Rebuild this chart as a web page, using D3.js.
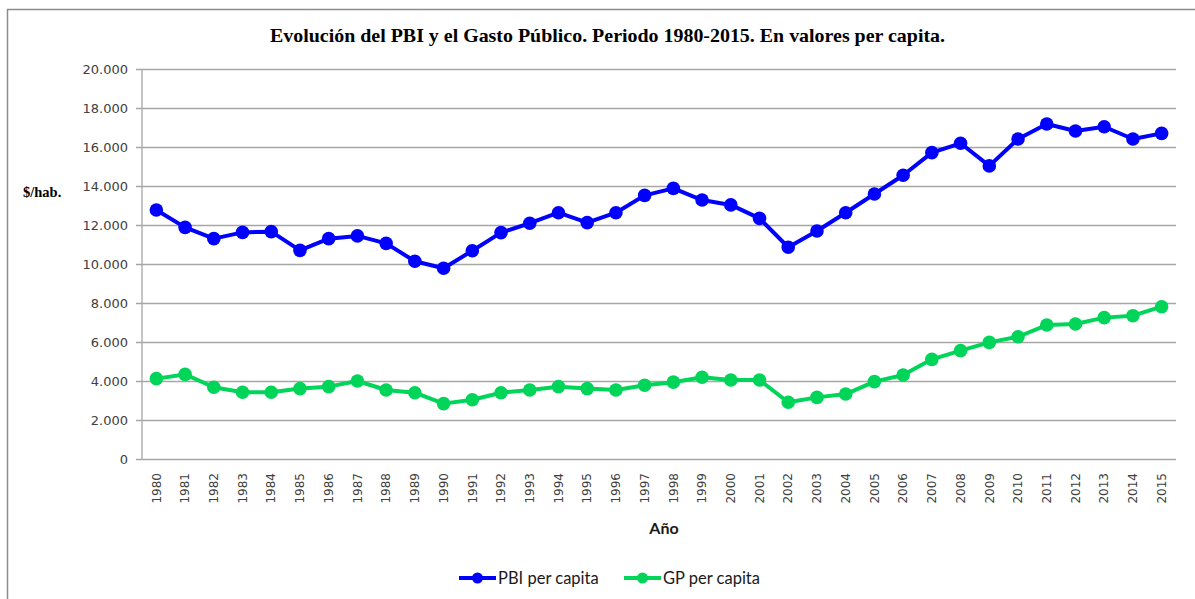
<!DOCTYPE html>
<html>
<head>
<meta charset="utf-8">
<script src="https://cdn.jsdelivr.net/npm/d3@7"></script>
<style>
  body { margin: 0; background: #fff; }
  svg { display: block; }
</style>
</head>
<body>
<svg id="chart"></svg>
<script>
// datos
const years = d3.range(1980, 2016).map(String)
const pbi = [12770, 11880, 11300, 11620, 11660, 10700, 11300, 11440, 11060, 10140,
  9780, 10680, 11610, 12090, 12630, 12120, 12630, 13520, 13880, 13280,
  13030, 12340, 10860, 11690, 12630, 13590, 14550, 15710, 16190, 15030,
  16410, 17180, 16820, 17040, 16410, 16700]
const gp = [4120, 4340, 3680, 3420, 3420, 3610, 3710, 4000, 3540, 3400,
  2840, 3040, 3400, 3540, 3710, 3610, 3540, 3780, 3940, 4190,
  4050, 4050, 2910, 3160, 3330, 3970, 4310, 5110, 5560, 5980,
  6270, 6870, 6920, 7250, 7350, 7810]
const yTicks = [0, 2000, 4000, 6000, 8000, 10000, 12000, 14000, 16000, 18000, 20000]
const series = [
  { name: 'PBI per capita', values: pbi, color: '#0000ff' },
  { name: 'GP per capita', values: gp, color: '#00d459' }
]

const width = 1195
const height = 599
const margin = { top: 69, right: 19, bottom: 140, left: 142 }

const svg = d3.select('#chart')
  .attr('width', width)
  .attr('height', height)

// marco exterior
svg.append('rect')
  .attr('x', 7.5).attr('y', 9.5)
  .attr('width', width + 20).attr('height', height + 20)
  .attr('fill', 'none')
  .attr('stroke', '#8c8c8c')
  .attr('stroke-width', 1.5)

const x = d3.scaleBand()
  .domain(years)
  .range([margin.left, width - margin.right])

const y = d3.scaleLinear()
  .domain([0, 20000])
  .range([height - margin.bottom, margin.top])

const fmt = d3.formatLocale({ decimal: ',', thousands: '.', grouping: [3], currency: ['$', ''] }).format(',')

// grilla + eje y
const yAxis = svg.append('g')
  .attr('transform', `translate(${margin.left},0)`)
  .call(d3.axisLeft(y).tickValues(yTicks).tickFormat(fmt)
    .tickSize(-(width - margin.left - margin.right)).tickPadding(14))
yAxis.select('.domain').remove()
yAxis.selectAll('.tick line')
  .attr('stroke', '#a6a6a6')
  .attr('stroke-width', 1.3)
  .attr('x1', -6)
yAxis.selectAll('.tick text')
  .attr('fill', '#404040')
  .style('font-family', '"DejaVu Sans", sans-serif')
  .style('font-size', '13px')

svg.append('line')
  .attr('x1', margin.left).attr('x2', margin.left)
  .attr('y1', margin.top).attr('y2', y(0))
  .attr('stroke', '#a6a6a6').attr('stroke-width', 1.3)

// eje x
const xAxis = svg.append('g')
  .attr('transform', `translate(0,${y(0)})`)
  .call(d3.axisBottom(x).tickSize(0).tickPadding(0))
xAxis.select('.domain').remove()
xAxis.selectAll('.tick text')
  .attr('transform', 'rotate(-90)')
  .attr('x', -14)
  .attr('y', 0)
  .attr('dy', '0.35em')
  .attr('text-anchor', 'end')
  .attr('fill', '#404040')
  .style('font-family', '"DejaVu Sans", sans-serif')
  .style('font-size', '12px')

const cx = (i) => x(years[i]) + x.bandwidth() / 2

const line = d3.line()
  .x((d, i) => cx(i))
  .y((d) => y(d))

const g = svg.append('g')
series.forEach((s) => {
  g.append('path')
    .datum(s.values)
    .attr('d', line)
    .attr('fill', 'none')
    .attr('stroke', s.color)
    .attr('stroke-width', 4)
    .attr('stroke-linejoin', 'round')
  g.append('g')
    .selectAll('circle')
    .data(s.values)
    .join('circle')
    .attr('cx', (d, i) => cx(i))
    .attr('cy', (d) => y(d))
    .attr('r', 6.8)
    .attr('fill', s.color)
})

// titulos
svg.append('text')
  .attr('x', 270).attr('y', 42)
  .attr('textLength', 675)
  .attr('lengthAdjust', 'spacingAndGlyphs')
  .style('font-family', '"Liberation Serif", serif')
  .style('font-weight', 'bold')
  .style('font-size', '19px')
  .attr('fill', '#000')
  .text('Evolución del PBI y el Gasto Público. Periodo 1980-2015. En valores per capita.')

svg.append('text')
  .attr('x', 23).attr('y', 197)
  .style('font-family', '"Liberation Serif", serif')
  .style('font-weight', 'bold')
  .style('font-size', '14.5px')
  .text('$/hab.')

svg.append('text')
  .attr('x', (margin.left + width - margin.right) / 2 + 5).attr('y', 534)
  .attr('text-anchor', 'middle')
  .style('font-family', 'Lato, sans-serif')
  .style('font-weight', 'bold')
  .style('font-size', '16px')
  .attr('fill', '#1a1a1a')
  .text('Año')

// leyenda
const legendX = [459, 624]
const legend = svg.append('g')
series.forEach((s, i) => {
  const lg = legend.append('g').attr('transform', `translate(${legendX[i]},578)`)
  lg.append('line')
    .attr('x1', 0).attr('x2', 37)
    .attr('stroke', s.color).attr('stroke-width', 4)
  lg.append('circle').attr('cx', 18.5).attr('r', 5.5).attr('fill', s.color)
  lg.append('text')
    .attr('x', 39).attr('dy', '0.35em')
    .style('font-family', 'Lato, sans-serif')
    .style('font-size', '16.5px')
    .attr('fill', '#1a1a1a')
    .text(s.name)
})
</script>
</body>
</html>
